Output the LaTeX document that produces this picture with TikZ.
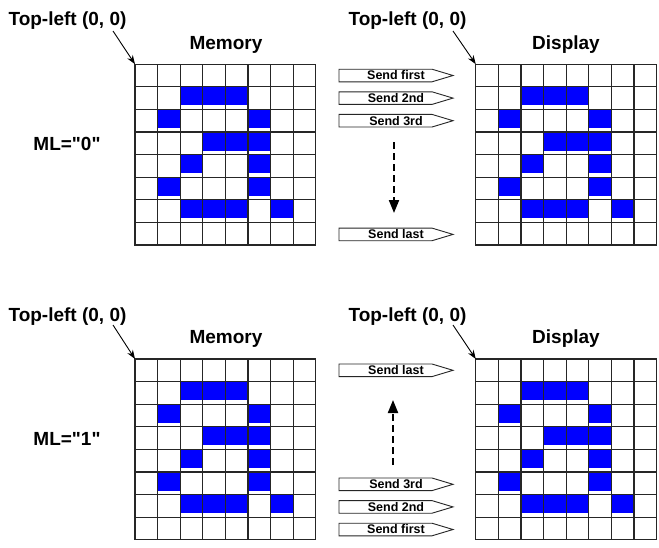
\documentclass[tikz,border=0pt]{standalone}
\usepackage{fontspec}
\setmainfont{Liberation Sans}[Ligatures=TeXOff]
\usetikzlibrary{arrows.meta}
\newcommand\pixgrid[3]{% name, x0, y0
  \node[minimum width=180.8pt, minimum height=180.8pt, inner sep=0pt, anchor=north west] (#1) at (#2,#3) {};
  \foreach \rr/\cc in {1/2,1/3,1/4,2/1,2/5,3/3,3/4,3/5,4/2,4/5,5/1,5/5,6/2,6/3,6/4,6/6}
    \fill[pixel] (#2+\cc*22.6, #3+\rr*22.6) rectangle ++(22.6,18.6);
  \foreach \ii in {0,...,8} {
    \draw[gridline] (#2+\ii*22.6, #3) -- ++(0,180.8);
    \draw[gridline] (#2, #3+\ii*22.6) -- ++(180.8,0);
  }
}
\newcommand\sendarrow[3]{% name, ycenter, text
  \draw[sendbox] (339,#2-6.3) -- (432,#2-6.3) -- (453,#2) -- (432,#2+6.3) -- (339,#2+6.3) -- cycle;
  \node[sendtxt] (#1) at (396,#2) {#3};
}
\begin{document}
\begin{tikzpicture}[x=1pt,y=-1pt,
  title/.style={font=\fontsize{19}{22}\selectfont\bfseries, inner sep=0pt, anchor=base},
  sendtxt/.style={font=\fontsize{12.5}{14}\selectfont\bfseries, inner sep=0pt},
  sendbox/.style={draw=black!85, line width=0.9pt, fill=white},
  gridline/.style={draw=black!85, line width=1.2pt, line cap=rect},
  pixel/.style={fill=blue},
  ptr/.style={-{Stealth[length=9pt,width=6.5pt]}, line width=0.9pt},
  flow/.style={dash pattern=on 7pt off 4pt, line width=2pt, -{Triangle[length=13pt,width=10pt]}},
]
\useasboundingbox (0,0) rectangle (659,547);
\fill[white] (0,0) rectangle (659,547);

% ---------- top half (ML="0") ----------
\pixgrid{memA}{135}{64.2}
\pixgrid{dispA}{475.8}{64.2}
\node[title] (tlA) at (67.5,25) {Top-left (0, 0)};
\node[title] (tlB) at (407.5,25) {Top-left (0, 0)};
\node[title] (memAt) at (226,49) {Memory};
\node[title] (dispAt) at (566,49) {Display};
\node[title] (mlA) at (67,150.7) {ML="0"};
\coordinate (pA) at (113,31);
\coordinate (pB) at (453,31);
\draw[ptr] (pA) -- (memA.north west);
\draw[ptr] (pB) -- (dispA.north west);
\sendarrow{sA1}{75.5}{Send first}
\sendarrow{sA2}{98.1}{Send 2nd}
\sendarrow{sA3}{120.7}{Send 3rd}
\sendarrow{sAl}{234.4}{Send last}
\coordinate (fA1) at (394,142);
\coordinate (fA2) at (394,213);
\draw[flow] (fA1) -- (fA2);

% ---------- bottom half (ML="1") ----------
\pixgrid{memB}{135}{359}
\pixgrid{dispB}{475.8}{359}
\node[title] (tlC) at (67.5,321.5) {Top-left (0, 0)};
\node[title] (tlD) at (407.5,321.5) {Top-left (0, 0)};
\node[title] (memBt) at (226,343.3) {Memory};
\node[title] (dispBt) at (566,343.3) {Display};
\node[title] (mlB) at (67,445) {ML="1"};
\coordinate (pC) at (113,325);
\coordinate (pD) at (453,325);
\draw[ptr] (pC) -- (memB.north west);
\draw[ptr] (pD) -- (dispB.north west);
\sendarrow{sBl}{370.3}{Send last}
\sendarrow{sB3}{484.3}{Send 3rd}
\sendarrow{sB2}{506.9}{Send 2nd}
\sendarrow{sB1}{529.5}{Send first}
\coordinate (fB1) at (393,465);
\coordinate (fB2) at (393,400);
\draw[flow] (fB1) -- (fB2);
\end{tikzpicture}
\end{document}
